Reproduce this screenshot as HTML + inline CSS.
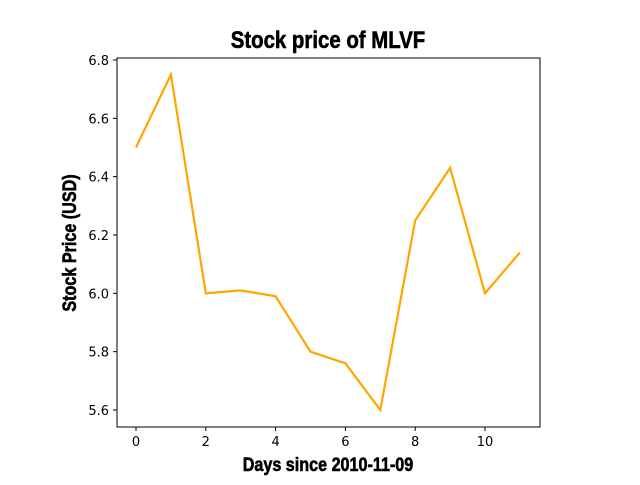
<!DOCTYPE html>
<html><head><meta charset="utf-8"><style>
body{margin:0;background:#fff;}
svg text{font-family:"DejaVu Sans","Liberation Sans",sans-serif;}
.t{font-family:"Liberation Sans Narrow","Liberation Sans",sans-serif;font-weight:bold;stroke:#000;stroke-width:0.6;}
</style></head><body>
<svg id="c" width="640" height="480" xmlns="http://www.w3.org/2000/svg">
<rect width="640" height="480" fill="#fff"/>
<text class="t" x="328" y="48" text-anchor="middle" font-size="24" transform="translate(328,0) scale(0.85,1) translate(-328,0)">Stock price of MLVF</text>
<text class="t" x="328" y="471" text-anchor="middle" font-size="19" transform="translate(328,0) scale(0.85,1) translate(-328,0)">Days since 2010-11-09</text>
<text class="t" x="0" y="0" text-anchor="middle" font-size="19" transform="translate(76,243) rotate(-90) scale(0.85,1)">Stock Price (USD)</text>
<g id="ticks"></g>
<polyline id="line" fill="none" stroke="#ffa500" stroke-width="2.2"/>
<rect x="117" y="58" width="423" height="369" fill="none" stroke="#000" stroke-width="1"/>
</svg>
<script>
const days=[0,1,2,3,4,5,6,7,8,9,10,11];
const prices=[6.50,6.75,6.00,6.01,5.99,5.80,5.76,5.60,6.25,6.43,6.00,6.14];
const xTicks=[0,2,4,6,8,10];
const yTicks=[5.6,5.8,6.0,6.2,6.4,6.6,6.8];
const xs=v=>136+v*34.9;
const ys=v=>410-(v-5.6)*291.7;
const ns="http://www.w3.org/2000/svg";
const g=document.getElementById('ticks');
function mk(t,a){const e=document.createElementNS(ns,t);for(const k in a)e.setAttribute(k,a[k]);g.appendChild(e);return e;}
xTicks.forEach(v=>{
 const l=mk('line',{x1:xs(v),x2:xs(v),y1:427,y2:431,stroke:'#000'});
 
 
 const t=mk('text',{x:xs(v),y:446,'text-anchor':'middle','font-size':13});
 t.textContent=v;
 
 
});
yTicks.forEach(v=>{
 const l=mk('line',{x1:113,x2:117,y1:ys(v),y2:ys(v),stroke:'#000'});
 
 
 const t=mk('text',{x:109,y:ys(v)+5,'text-anchor':'end','font-size':13});
 t.textContent=v.toFixed(1);
 
 
});
document.getElementById('line').setAttribute('points',days.map((d,i)=>xs(d)+','+ys(prices[i])).join(' '));
</script>
</body></html>
